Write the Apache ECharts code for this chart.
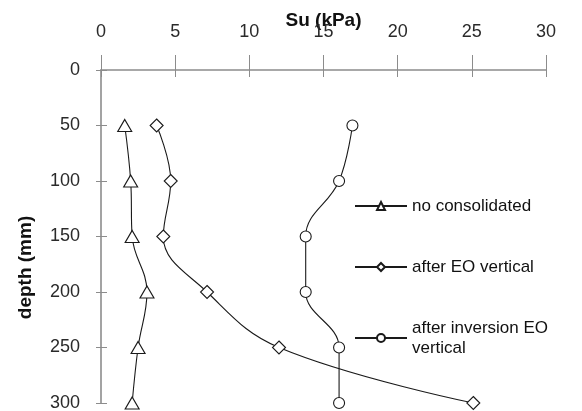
<!DOCTYPE html>
<html>
<head>
<meta charset="utf-8">
<script src="https://cdn.jsdelivr.net/npm/echarts@6/dist/echarts.min.js"></script>
<style>html,body{margin:0;padding:0;background:#fff}#c{width:582px;height:411px}</style>
</head>
<body>
<div id="c"></div>
<script>
var depths = [50, 100, 150, 200, 250, 300];
var noConsolidated = [1.6, 2.0, 2.1, 3.1, 2.5, 2.1];
var afterEOVertical = [3.75, 4.7, 4.2, 7.15, 12.0, 25.1];
var afterInversionEOVertical = [16.95, 16.05, 13.8, 13.8, 16.05, 16.05];
var seriesNames = ['no consolidated', 'after EO vertical', 'after inversion EO\nvertical'];

function pairs(vals) { return vals.map(function (v, i) { return [v, depths[i]]; }); }

var chart = echarts.init(document.getElementById('c'));
var font = 'Liberation Sans, Arial, sans-serif';
var axisGrey = '#8c8c8c';
function mk(name, vals, symbol, size) {
  return {
    name: name, type: 'line', data: pairs(vals), smooth: 0.4,
    xAxisIndex: 0, yAxisIndex: 0,
    symbol: symbol, symbolSize: size, showAllSymbol: true,
    lineStyle: { color: '#1a1a1a', width: 1.1 },
    itemStyle: { color: '#fff', borderColor: '#1a1a1a', borderWidth: 1.1 },
    emphasis: { disabled: true }
  };
}
chart.setOption({
  animation: false,
  backgroundColor: '#fff',
  grid: { left: 101, right: 36, top: 70, bottom: 8, containLabel: false, outerBoundsMode: 'none' },
  xAxis: [{
    type: 'value', position: 'top', min: 0, max: 30, interval: 5,
    name: 'Su (kPa)', nameLocation: 'middle', nameGap: 40, nameMoveOverlap: false,
    nameTextStyle: { fontFamily: font, fontSize: 19, fontWeight: 'bold', color: '#111' },
    axisLine: { show: true, lineStyle: { color: axisGrey, width: 1.6 } },
    axisTick: { show: true, length: 15, lineStyle: { color: axisGrey } },
    axisLabel: { margin: 29, fontFamily: font, fontSize: 18, color: '#2a2a2a' },
    splitLine: { show: false }
  }, {
    type: 'value', position: 'top', min: 0, max: 30, interval: 5,
    axisLine: { show: false },
    axisTick: { show: true, inside: true, length: 7, lineStyle: { color: axisGrey } },
    axisLabel: { show: false },
    splitLine: { show: false }
  }],
  yAxis: [{
    type: 'value', inverse: true, min: 0, max: 300, interval: 50,
    name: 'depth (mm)', nameLocation: 'middle', nameGap: 66, nameRotate: 90, nameMoveOverlap: false,
    nameTextStyle: { fontFamily: font, fontSize: 19, fontWeight: 'bold', color: '#111', padding: [0, 62, 0, 0] },
    axisLine: { show: true, lineStyle: { color: axisGrey, width: 1.6 } },
    axisTick: { show: true, length: 5, lineStyle: { color: axisGrey } },
    axisLabel: { margin: 21, fontFamily: font, fontSize: 18, color: '#2a2a2a' },
    splitLine: { show: false }
  }, {
    type: 'value', position: 'left', inverse: true, min: 0, max: 300, interval: 50,
    axisLine: { show: false },
    axisTick: { show: true, inside: true, length: 6, lineStyle: { color: axisGrey } },
    axisLabel: { show: false },
    splitLine: { show: false }
  }],
  legend: {
    orient: 'vertical', left: 354, top: 196, padding: 0, itemWidth: 52, itemHeight: 10, itemGap: 41,
    textStyle: { fontFamily: font, fontSize: 17, color: '#111', lineHeight: 20 },
    data: seriesNames, selectedMode: false
  },
  series: [
    mk(seriesNames[0], noConsolidated, 'triangle', [14, 12]),
    mk(seriesNames[1], afterEOVertical, 'diamond', [13, 13]),
    mk(seriesNames[2], afterInversionEOVertical, 'circle', 11)
  ]
});
</script>
</body>
</html>
